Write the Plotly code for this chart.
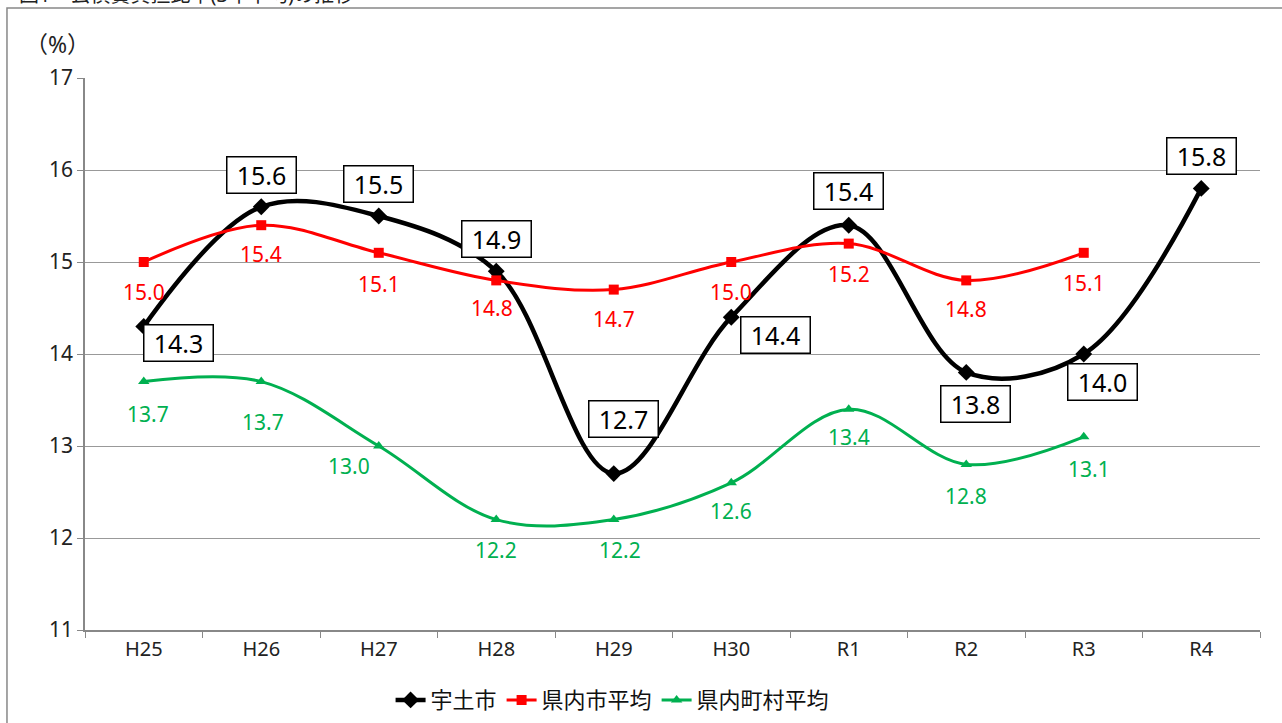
import plotly.graph_objects as go

categories = ["H25", "H26", "H27", "H28", "H29", "H30", "R1", "R2", "R3", "R4"]
uto = [14.3, 15.6, 15.5, 14.9, 12.7, 14.4, 15.4, 13.8, 14.0, 15.8]
city_avg = [15.0, 15.4, 15.1, 14.8, 14.7, 15.0, 15.2, 14.8, 15.1, None]
town_avg = [13.7, 13.7, 13.0, 12.2, 12.2, 12.6, 13.4, 12.8, 13.1, None]
y_ticks = [11, 12, 13, 14, 15, 16, 17]

# label offsets (pixels) for the data labels
uto_shift = [(35, -17), (0, 32), (0, 32), (0, 32), (10, 55), (44, -18), (0, 34), (9, -32), (19, -28), (0, 32)]
city_shift = [(0, -30), (0, -29), (0, -31), (-4, -28), (0, -29), (0, -30), (0, -30), (0, -29), (0, -30)]
town_shift = [(4, -32), (2, -40), (-30, -20), (0, -30), (6, -30), (0, -28), (0, -28), (0, -32), (5, -32)]

FONT = "Noto Sans, Noto Sans CJK JP"
BLACK = "#000000"
RED = "#FF0000"
GREEN = "#00B050"

fig = go.Figure()
fig.add_trace(go.Scatter(
    x=categories, y=uto, name="宇土市", mode="lines+markers",
    line=dict(color=BLACK, width=4.5, shape="spline", smoothing=1.0),
    marker=dict(symbol="diamond", size=13, color=BLACK),
))
fig.add_trace(go.Scatter(
    x=categories, y=city_avg, name="県内市平均", mode="lines+markers",
    line=dict(color=RED, width=3, shape="spline", smoothing=1.0),
    marker=dict(symbol="square", size=10, color=RED),
))
fig.add_trace(go.Scatter(
    x=categories, y=town_avg, name="県内町村平均", mode="lines+markers",
    line=dict(color=GREEN, width=3, shape="spline", smoothing=1.0),
    marker=dict(symbol="triangle-up", size=10, color=GREEN),
))

annotations = []
for c, v, (dx, dy) in zip(categories, uto, uto_shift):
    annotations.append(dict(
        x=c, y=v, xref="x", yref="y", text=f"{v:.1f}", showarrow=False,
        xshift=dx, yshift=dy, font=dict(family=FONT, size=25, color=BLACK),
        bgcolor="white", bordercolor=BLACK, borderwidth=1.5, borderpad=1,
        width=66, height=33,
    ))
for c, v, (dx, dy) in zip(categories, city_avg, city_shift):
    if v is None:
        continue
    annotations.append(dict(
        x=c, y=v, xref="x", yref="y", text=f"{v:.1f}", showarrow=False,
        xshift=dx, yshift=dy, font=dict(family=FONT, size=21, color=RED),
    ))
for c, v, (dx, dy) in zip(categories, town_avg, town_shift):
    if v is None:
        continue
    annotations.append(dict(
        x=c, y=v, xref="x", yref="y", text=f"{v:.1f}", showarrow=False,
        xshift=dx, yshift=dy, font=dict(family=FONT, size=21, color=GREEN),
    ))
annotations.append(dict(
    x=-0.0230, y=1.0, xref="paper", yref="paper", text="（%）", showarrow=False,
    xanchor="center", yanchor="middle", yshift=34,
    font=dict(family=FONT, size=23, color="#222222"),
))
annotations.append(dict(
    x=-0.058, y=1.151, xref="paper", yref="paper",
    text="図1　公債費負担比率(3年平均)の推移", showarrow=False,
    xanchor="left", yanchor="middle",
    font=dict(family=FONT, size=20, color="#222222"),
))

fig.update_layout(
    width=1282, height=723,
    margin=dict(l=85, r=22, t=78, b=93, autoexpand=False),
    paper_bgcolor="white", plot_bgcolor="white",
    font=dict(family=FONT, color="#222222"),
    annotations=annotations,
    showlegend=True,
    legend=dict(
        orientation="h", x=0.449, xanchor="center", y=-0.127, yanchor="middle",
        font=dict(family=FONT, size=22, color="#111111"),
        tracegroupgap=0,
    ),
    shapes=[dict(
        type="rect", xref="paper", yref="paper",
        x0=-0.0664, y0=-0.3, x1=1.2, y1=1.1268,
        line=dict(color="#888888", width=1.5), layer="below",
    )],
)
fig.update_xaxes(
    type="category", showline=True, linecolor="#888888", linewidth=1.5,
    ticks="outside", ticklen=6, tickcolor="#888888", tickson="boundaries",
    showgrid=False, tickfont=dict(family=FONT, size=20, color="#222222"),
    range=[-0.5, 9.5],
)
fig.update_yaxes(
    range=[11, 17], tickvals=y_ticks, showline=True, linecolor="#888888",
    linewidth=1.5, ticks="outside", ticklen=6, tickcolor="#888888",
    showgrid=True, gridcolor="#999999", gridwidth=1.2,
    tickfont=dict(family=FONT, size=21, color="#222222"), zeroline=False,
)

fig.write_html(
    "out.html",
    config={"displayModeBar": False},
    post_script="document.body.style.margin='0';document.body.style.overflow='hidden';",
)
